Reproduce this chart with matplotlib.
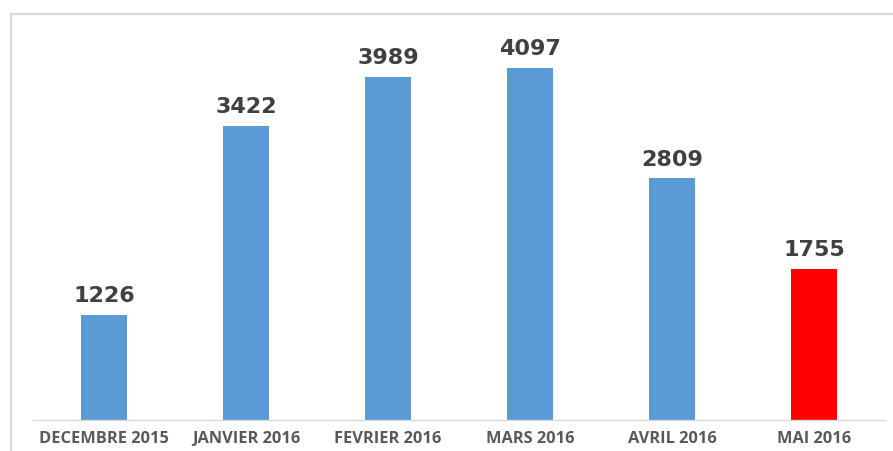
import matplotlib.pyplot as plt
from matplotlib.patches import Rectangle

# ---------------------------------------------------
# DATA
# ---------------------------------------------------

months = ["DECEMBRE 2015", "JANVIER 2016", "FEVRIER 2016",
          "MARS 2016", "AVRIL 2016", "MAI 2016"]
counts = [1226, 3422, 3989, 4097, 2809, 1755]
colors = ["#5b9bd5"] * 5 + ["#ff0000"]

W, H = 893, 452

fig = plt.figure(figsize=(W / 100, H / 100), dpi=100)

# outer light frame (cut off at right and bottom)
fig.patches.append(Rectangle(
    (11 / W, -0.1), 1.1, 1 - 15 / H + 0.1,
    transform=fig.transFigure, fill=False,
    edgecolor="#d9d9d9", linewidth=1.6
))

ax = fig.add_axes([33 / W, 1 - 421 / H, (885 - 33) / W, (421 - 34) / H])

x = range(len(months))
bars = ax.bar(x, counts, width=0.32, color=colors)

for rect, v in zip(bars, counts):
    ax.annotate(
        str(v),
        (rect.get_x() + rect.get_width() / 2, v),
        xytext=(0, 7), textcoords="offset points",
        ha="center", va="bottom",
        fontsize=16, fontweight="bold", color="#404040",
        family="DejaVu Sans"
    )

ax.set_xlim(-0.5, len(months) - 0.5)
ax.set_ylim(0, 4500)
ax.set_xticks(list(x))
ax.set_xticklabels(months, fontsize=11.8, fontweight="bold",
                   color="#595959", family="Open Sans")
ax.tick_params(axis="x", length=0, pad=7)
ax.set_yticks([])

for side in ["top", "right", "left"]:
    ax.spines[side].set_visible(False)
ax.spines["bottom"].set_color("#d9d9d9")
ax.spines["bottom"].set_linewidth(1.0)

plt.savefig("out.png", dpi=100)
plt.close(fig)
